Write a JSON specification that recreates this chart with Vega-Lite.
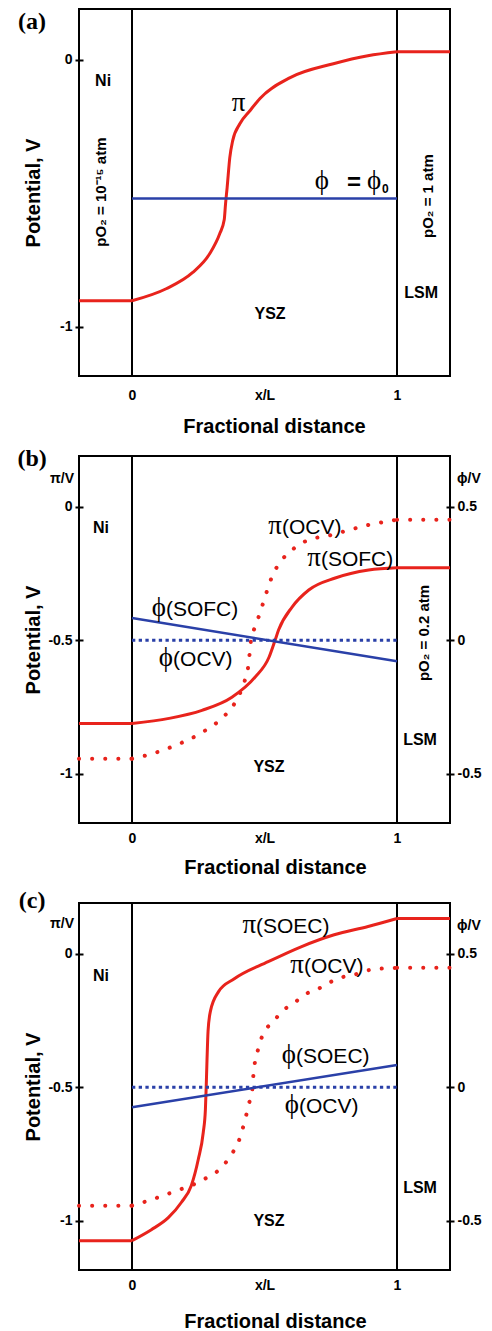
{
  "$schema": "https://vega.github.io/schema/vega-lite/v6.json",
  "padding": {"left": 16, "top": 7, "right": 0, "bottom": 0},
  "bounds": "flush",
  "spacing": 80,
  "config": {
    "view": {"stroke": "black", "strokeWidth": 2},
    "font": "Liberation Sans",
    "axis": {
      "grid": false, "domain": false,
      "labelFont": "Liberation Sans", "labelFontWeight": "bold", "labelFontSize": 14, "labelColor": "black",
      "titleFont": "Liberation Sans", "titleFontWeight": "bold", "titleFontSize": 20, "titleColor": "black",
      "tickColor": "black", "tickWidth": 2, "labelOverlap": false, "labelFlush": false
    }
  },
  "datasets": {
    "curves": [
      {"p":"a","s":"pi","g":"L","x":-0.2,"y":-0.903},{"p":"a","s":"pi","g":"L","x":0,"y":-0.903},
      {"p":"a","s":"pi","g":"M","x":0,"y":-0.903},{"p":"a","s":"pi","g":"M","x":0.129,"y":-0.858},{"p":"a","s":"pi","g":"M","x":0.228,"y":-0.798},{"p":"a","s":"pi","g":"M","x":0.293,"y":-0.727},{"p":"a","s":"pi","g":"M","x":0.331,"y":-0.652},{"p":"a","s":"pi","g":"M","x":0.348,"y":-0.6},{"p":"a","s":"pi","g":"M","x":0.353,"y":-0.54},{"p":"a","s":"pi","g":"M","x":0.359,"y":-0.479},{"p":"a","s":"pi","g":"M","x":0.369,"y":-0.367},{"p":"a","s":"pi","g":"M","x":0.38,"y":-0.303},{"p":"a","s":"pi","g":"M","x":0.407,"y":-0.24},{"p":"a","s":"pi","g":"M","x":0.445,"y":-0.191},{"p":"a","s":"pi","g":"M","x":0.483,"y":-0.145},{"p":"a","s":"pi","g":"M","x":0.597,"y":-0.067},{"p":"a","s":"pi","g":"M","x":0.76,"y":-0.015},{"p":"a","s":"pi","g":"M","x":0.89,"y":0.015},{"p":"a","s":"pi","g":"M","x":1.0,"y":0.03},
      {"p":"a","s":"pi","g":"R","x":1.0,"y":0.03},{"p":"a","s":"pi","g":"R","x":1.2,"y":0.03},
      {"p":"a","s":"phi","g":"M","x":0,"y":-0.52},{"p":"a","s":"phi","g":"M","x":1,"y":-0.52},
      {"p":"b","s":"pi","g":"L","x":-0.2,"y":-0.812},{"p":"b","s":"pi","g":"L","x":0,"y":-0.812},
      {"p":"b","s":"pi","g":"M","x":0,"y":-0.812},{"p":"b","s":"pi","g":"M","x":0.14,"y":-0.793},{"p":"b","s":"pi","g":"M","x":0.264,"y":-0.763},{"p":"b","s":"pi","g":"M","x":0.377,"y":-0.714},{"p":"b","s":"pi","g":"M","x":0.464,"y":-0.639},{"p":"b","s":"pi","g":"M","x":0.517,"y":-0.564},{"p":"b","s":"pi","g":"M","x":0.54,"y":-0.5},{"p":"b","s":"pi","g":"M","x":0.553,"y":-0.462},{"p":"b","s":"pi","g":"M","x":0.604,"y":-0.376},{"p":"b","s":"pi","g":"M","x":0.667,"y":-0.312},{"p":"b","s":"pi","g":"M","x":0.767,"y":-0.267},{"p":"b","s":"pi","g":"M","x":0.893,"y":-0.237},{"p":"b","s":"pi","g":"M","x":1.0,"y":-0.229},
      {"p":"b","s":"pi","g":"R","x":1.0,"y":-0.229},{"p":"b","s":"pi","g":"R","x":1.2,"y":-0.229},
      {"p":"b","s":"pio","g":"L","x":-0.2,"y":-0.944},{"p":"b","s":"pio","g":"L","x":0,"y":-0.944},
      {"p":"b","s":"pio","g":"M","x":0,"y":-0.944},{"p":"b","s":"pio","g":"M","x":0.064,"y":-0.929},{"p":"b","s":"pio","g":"M","x":0.162,"y":-0.895},{"p":"b","s":"pio","g":"M","x":0.257,"y":-0.85},{"p":"b","s":"pio","g":"M","x":0.343,"y":-0.789},{"p":"b","s":"pio","g":"M","x":0.377,"y":-0.752},{"p":"b","s":"pio","g":"M","x":0.405,"y":-0.705},{"p":"b","s":"pio","g":"M","x":0.426,"y":-0.65},{"p":"b","s":"pio","g":"M","x":0.438,"y":-0.602},{"p":"b","s":"pio","g":"M","x":0.444,"y":-0.549},{"p":"b","s":"pio","g":"M","x":0.449,"y":-0.5},{"p":"b","s":"pio","g":"M","x":0.464,"y":-0.451},{"p":"b","s":"pio","g":"M","x":0.483,"y":-0.398},{"p":"b","s":"pio","g":"M","x":0.502,"y":-0.338},{"p":"b","s":"pio","g":"M","x":0.528,"y":-0.263},{"p":"b","s":"pio","g":"M","x":0.566,"y":-0.199},{"p":"b","s":"pio","g":"M","x":0.604,"y":-0.162},{"p":"b","s":"pio","g":"M","x":0.649,"y":-0.132},{"p":"b","s":"pio","g":"M","x":0.755,"y":-0.105},{"p":"b","s":"pio","g":"M","x":0.894,"y":-0.068},{"p":"b","s":"pio","g":"M","x":1.0,"y":-0.049},
      {"p":"b","s":"pio","g":"R","x":1.0,"y":-0.049},{"p":"b","s":"pio","g":"R","x":1.2,"y":-0.049},
      {"p":"b","s":"phi","g":"M","x":0,"y":-0.417},{"p":"b","s":"phi","g":"M","x":1,"y":-0.579},
      {"p":"b","s":"phio","g":"M","x":0,"y":-0.5},{"p":"b","s":"phio","g":"M","x":1,"y":-0.5},
      {"p":"c","s":"pi","g":"L","x":-0.2,"y":-1.075},{"p":"c","s":"pi","g":"L","x":0,"y":-1.075},
      {"p":"c","s":"pi","g":"M","x":0,"y":-1.075},{"p":"c","s":"pi","g":"M","x":0.073,"y":-1.034},{"p":"c","s":"pi","g":"M","x":0.137,"y":-0.989},{"p":"c","s":"pi","g":"M","x":0.186,"y":-0.932},{"p":"c","s":"pi","g":"M","x":0.224,"y":-0.868},{"p":"c","s":"pi","g":"M","x":0.25,"y":-0.771},{"p":"c","s":"pi","g":"M","x":0.269,"y":-0.669},{"p":"c","s":"pi","g":"M","x":0.277,"y":-0.583},{"p":"c","s":"pi","g":"M","x":0.28,"y":-0.5},{"p":"c","s":"pi","g":"M","x":0.283,"y":-0.4},{"p":"c","s":"pi","g":"M","x":0.287,"y":-0.29},{"p":"c","s":"pi","g":"M","x":0.296,"y":-0.215},{"p":"c","s":"pi","g":"M","x":0.326,"y":-0.143},{"p":"c","s":"pi","g":"M","x":0.386,"y":-0.094},{"p":"c","s":"pi","g":"M","x":0.514,"y":-0.03},{"p":"c","s":"pi","g":"M","x":0.638,"y":0.026},{"p":"c","s":"pi","g":"M","x":0.763,"y":0.071},{"p":"c","s":"pi","g":"M","x":0.891,"y":0.102},{"p":"c","s":"pi","g":"M","x":1.0,"y":0.132},
      {"p":"c","s":"pi","g":"R","x":1.0,"y":0.132},{"p":"c","s":"pi","g":"R","x":1.2,"y":0.132},
      {"p":"c","s":"pio","g":"L","x":-0.2,"y":-0.944},{"p":"c","s":"pio","g":"L","x":0,"y":-0.944},
      {"p":"c","s":"pio","g":"M","x":0,"y":-0.944},{"p":"c","s":"pio","g":"M","x":0.062,"y":-0.925},{"p":"c","s":"pio","g":"M","x":0.16,"y":-0.891},{"p":"c","s":"pio","g":"M","x":0.262,"y":-0.85},{"p":"c","s":"pio","g":"M","x":0.345,"y":-0.793},{"p":"c","s":"pio","g":"M","x":0.375,"y":-0.752},{"p":"c","s":"pio","g":"M","x":0.401,"y":-0.707},{"p":"c","s":"pio","g":"M","x":0.431,"y":-0.605},{"p":"c","s":"pio","g":"M","x":0.443,"y":-0.556},{"p":"c","s":"pio","g":"M","x":0.453,"y":-0.519},{"p":"c","s":"pio","g":"M","x":0.458,"y":-0.455},{"p":"c","s":"pio","g":"M","x":0.476,"y":-0.357},{"p":"c","s":"pio","g":"M","x":0.499,"y":-0.293},{"p":"c","s":"pio","g":"M","x":0.533,"y":-0.256},{"p":"c","s":"pio","g":"M","x":0.563,"y":-0.218},{"p":"c","s":"pio","g":"M","x":0.608,"y":-0.188},{"p":"c","s":"pio","g":"M","x":0.65,"y":-0.154},{"p":"c","s":"pio","g":"M","x":0.702,"y":-0.132},{"p":"c","s":"pio","g":"M","x":0.751,"y":-0.105},{"p":"c","s":"pio","g":"M","x":0.8,"y":-0.086},{"p":"c","s":"pio","g":"M","x":0.853,"y":-0.075},{"p":"c","s":"pio","g":"M","x":0.901,"y":-0.06},{"p":"c","s":"pio","g":"M","x":1.0,"y":-0.053},
      {"p":"c","s":"pio","g":"R","x":1.0,"y":-0.053},{"p":"c","s":"pio","g":"R","x":1.2,"y":-0.053},
      {"p":"c","s":"phi","g":"M","x":0,"y":-0.575},{"p":"c","s":"phi","g":"M","x":1,"y":-0.417},
      {"p":"c","s":"phio","g":"M","x":0,"y":-0.5},{"p":"c","s":"phio","g":"M","x":1,"y":-0.5}
    ],
    "texts": [
      {"p":"a","k":"tag","x":-0.377,"y":0.141,"t":"(a)"},
      {"p":"a","k":"region","x":-0.109,"y":-0.08,"t":"Ni"},
      {"p":"a","k":"region","x":0.521,"y":-0.953,"t":"YSZ"},
      {"p":"a","k":"region","x":1.091,"y":-0.874,"t":"LSM"},
      {"p":"a","k":"rot","x":-0.117,"y":-0.496,"t":"pO₂ = 10⁻¹⁵ atm"},
      {"p":"a","k":"rot","x":1.117,"y":-0.511,"t":"pO₂ = 1 atm"},
      {"p":"a","k":"g","x":0.428,"y":-0.192,"t":"π"},
      {"p":"a","k":"g","x":0.743,"y":-0.484,"t":"ϕ"},
      {"p":"a","k":"eq","x":0.838,"y":-0.462,"t":"="},
      {"p":"a","k":"g","x":0.94,"y":-0.484,"t":"ϕ"},
      {"p":"a","k":"sub","x":0.943,"y":-0.484,"t":"0"},
      {"p":"b","k":"tag","x":-0.377,"y":0.179,"t":"(b)"},
      {"p":"b","k":"unitL","x":-0.2,"y":0.104,"t":"π/V"},
      {"p":"b","k":"unitR","x":1.2,"y":0.104,"t":"ϕ/V"},
      {"p":"b","k":"region","x":-0.117,"y":-0.08,"t":"Ni"},
      {"p":"b","k":"region","x":0.517,"y":-0.975,"t":"YSZ"},
      {"p":"b","k":"region","x":1.087,"y":-0.874,"t":"LSM"},
      {"p":"b","k":"rot","x":1.102,"y":-0.473,"t":"pO₂ = 0.2 atm"},
      {"p":"b","k":"g","x":0.566,"y":-0.102,"t":"π"},{"p":"b","k":"r","x":0.566,"y":-0.102,"t":"(OCV)"},
      {"p":"b","k":"g","x":0.713,"y":-0.222,"t":"π"},{"p":"b","k":"r","x":0.713,"y":-0.222,"t":"(SOFC)"},
      {"p":"b","k":"g","x":0.128,"y":-0.41,"t":"ϕ"},{"p":"b","k":"r","x":0.128,"y":-0.41,"t":"(SOFC)"},
      {"p":"b","k":"g","x":0.155,"y":-0.597,"t":"ϕ"},{"p":"b","k":"r","x":0.155,"y":-0.597,"t":"(OCV)"},
      {"p":"c","k":"tag","x":-0.377,"y":0.197,"t":"(c)"},
      {"p":"c","k":"unitL","x":-0.2,"y":0.111,"t":"π/V"},
      {"p":"c","k":"unitR","x":1.2,"y":0.104,"t":"ϕ/V"},
      {"p":"c","k":"region","x":-0.117,"y":-0.083,"t":"Ni"},
      {"p":"c","k":"region","x":0.517,"y":-1.001,"t":"YSZ"},
      {"p":"c","k":"region","x":1.087,"y":-0.878,"t":"LSM"},
      {"p":"c","k":"g","x":0.468,"y":0.078,"t":"π"},{"p":"c","k":"r","x":0.468,"y":0.078,"t":"(SOEC)"},
      {"p":"c","k":"g","x":0.649,"y":-0.072,"t":"π"},{"p":"c","k":"r","x":0.649,"y":-0.072,"t":"(OCV)"},
      {"p":"c","k":"g","x":0.619,"y":-0.409,"t":"ϕ"},{"p":"c","k":"r","x":0.619,"y":-0.409,"t":"(SOEC)"},
      {"p":"c","k":"g","x":0.63,"y":-0.597,"t":"ϕ"},{"p":"c","k":"r","x":0.63,"y":-0.597,"t":"(OCV)"}
    ]
  },
  "vconcat": [
    {
      "width": 371, "height": 367,
      "resolve": {"axis": {"x": "independent", "y": "independent"}},
      "layer": [
        {"data": {"values": [{"x": 0}, {"x": 1}]}, "mark": {"type": "rule", "color": "black", "strokeWidth": 2},
         "encoding": {"x": {"field": "x", "type": "quantitative", "scale": {"domain": [-0.2, 1.2], "nice": false, "zero": false},
           "axis": {"values": [0, 0.5, 1], "labelExpr": "datum.value == 0.5 ? 'x/L' : toString(datum.value)", "ticks": false, "tickSize": 0, "labelPadding": 23, "labelBaseline": "alphabetic", "title": "Fractional distance", "titleX": 195, "titleY": 56, "titleBaseline": "alphabetic", "titleAlign": "center"}}}},
        {"data": {"name": "curves"}, "transform": [{"filter": "datum.p == 'a' && datum.s == 'pi'"}],
         "mark": {"type": "line", "color": "#e8231c", "strokeWidth": 3, "interpolate": "monotone"},
         "encoding": {"x": {"field": "x", "type": "quantitative", "scale": {"domain": [-0.2, 1.2], "nice": false, "zero": false}, "axis": null},
           "y": {"field": "y", "type": "quantitative", "scale": {"domain": [-1.185, 0.19], "nice": false, "zero": false},
             "axis": {"orient": "left", "values": [0, -1], "labelExpr": "toString(datum.value)", "offset": -4, "tickSize": 8, "labelPadding": 3, "title": "Potential, V", "titleX": -50, "titleAngle": 270, "titleBaseline": "middle", "titleAlign": "center"}},
           "detail": {"field": "g"}}},
        {"data": {"name": "curves"}, "transform": [{"filter": "datum.p == 'a' && datum.s == 'phi'"}],
         "mark": {"type": "line", "color": "#2a40a8", "strokeWidth": 2.5},
         "encoding": {"x": {"field": "x", "type": "quantitative", "scale": {"domain": [-0.2, 1.2], "nice": false, "zero": false}, "axis": null},
           "y": {"field": "y", "type": "quantitative", "scale": {"domain": [-1.185, 0.19], "nice": false, "zero": false}, "axis": null}}},
        {"data": {"name": "texts"}, "transform": [{"filter": "datum.p == 'a' && datum.k == 'tag'"}],
         "mark": {"type": "text", "font": "Liberation Serif", "fontWeight": "bold", "fontSize": 24, "align": "center", "baseline": "middle", "color": "black"},
         "encoding": {"x": {"field": "x", "type": "quantitative", "scale": {"domain": [-0.2, 1.2], "nice": false, "zero": false}, "axis": null},
           "y": {"field": "y", "type": "quantitative", "scale": {"domain": [-1.185, 0.19], "nice": false, "zero": false}, "axis": null}, "text": {"field": "t"}}},
        {"data": {"name": "texts"}, "transform": [{"filter": "datum.p == 'a' && datum.k == 'region'"}],
         "mark": {"type": "text", "font": "Liberation Sans", "fontWeight": "bold", "fontSize": 16, "align": "center", "baseline": "middle", "color": "black"},
         "encoding": {"x": {"field": "x", "type": "quantitative", "scale": {"domain": [-0.2, 1.2], "nice": false, "zero": false}, "axis": null},
           "y": {"field": "y", "type": "quantitative", "scale": {"domain": [-1.185, 0.19], "nice": false, "zero": false}, "axis": null}, "text": {"field": "t"}}},
        {"data": {"name": "texts"}, "transform": [{"filter": "datum.p == 'a' && datum.k == 'rot'"}],
         "mark": {"type": "text", "font": "Liberation Sans", "fontWeight": "bold", "fontSize": 15, "align": "center", "baseline": "middle", "angle": 270, "color": "black"},
         "encoding": {"x": {"field": "x", "type": "quantitative", "scale": {"domain": [-0.2, 1.2], "nice": false, "zero": false}, "axis": null},
           "y": {"field": "y", "type": "quantitative", "scale": {"domain": [-1.185, 0.19], "nice": false, "zero": false}, "axis": null}, "text": {"field": "t"}}},
        {"data": {"name": "texts"}, "transform": [{"filter": "datum.p == 'a' && datum.k == 'g'"}],
         "mark": {"type": "text", "font": "Liberation Serif", "fontSize": 27, "align": "right", "baseline": "alphabetic", "color": "black"},
         "encoding": {"x": {"field": "x", "type": "quantitative", "scale": {"domain": [-0.2, 1.2], "nice": false, "zero": false}, "axis": null},
           "y": {"field": "y", "type": "quantitative", "scale": {"domain": [-1.185, 0.19], "nice": false, "zero": false}, "axis": null}, "text": {"field": "t"}}},
        {"data": {"name": "texts"}, "transform": [{"filter": "datum.p == 'a' && datum.k == 'eq'"}],
         "mark": {"type": "text", "font": "Liberation Sans", "fontWeight": "bold", "fontSize": 24, "align": "center", "baseline": "middle", "color": "black"},
         "encoding": {"x": {"field": "x", "type": "quantitative", "scale": {"domain": [-0.2, 1.2], "nice": false, "zero": false}, "axis": null},
           "y": {"field": "y", "type": "quantitative", "scale": {"domain": [-1.185, 0.19], "nice": false, "zero": false}, "axis": null}, "text": {"field": "t"}}},
        {"data": {"name": "texts"}, "transform": [{"filter": "datum.p == 'a' && datum.k == 'sub'"}],
         "mark": {"type": "text", "font": "Liberation Sans", "fontWeight": "bold", "fontSize": 12, "align": "left", "baseline": "middle", "color": "black"},
         "encoding": {"x": {"field": "x", "type": "quantitative", "scale": {"domain": [-0.2, 1.2], "nice": false, "zero": false}, "axis": null},
           "y": {"field": "y", "type": "quantitative", "scale": {"domain": [-1.185, 0.19], "nice": false, "zero": false}, "axis": null}, "text": {"field": "t"}}}
      ]
    },
    {
      "width": 371, "height": 367,
      "resolve": {"axis": {"x": "independent", "y": "independent"}},
      "layer": [
        {"data": {"values": [{"x": 0}, {"x": 1}]}, "mark": {"type": "rule", "color": "black", "strokeWidth": 2},
         "encoding": {"x": {"field": "x", "type": "quantitative", "scale": {"domain": [-0.2, 1.2], "nice": false, "zero": false},
           "axis": {"values": [0, 0.5, 1], "labelExpr": "datum.value == 0.5 ? 'x/L' : toString(datum.value)", "ticks": false, "tickSize": 0, "labelPadding": 19, "labelBaseline": "alphabetic", "title": "Fractional distance", "titleX": 196, "titleY": 50, "titleBaseline": "alphabetic", "titleAlign": "center"}}}},
        {"data": {"name": "curves"}, "transform": [{"filter": "datum.p == 'b' && datum.s == 'pi'"}],
         "mark": {"type": "line", "color": "#e8231c", "strokeWidth": 3, "interpolate": "monotone"},
         "encoding": {"x": {"field": "x", "type": "quantitative", "scale": {"domain": [-0.2, 1.2], "nice": false, "zero": false}, "axis": null},
           "y": {"field": "y", "type": "quantitative", "scale": {"domain": [-1.185, 0.19], "nice": false, "zero": false},
             "axis": {"orient": "left", "values": [0, -0.5, -1], "labelExpr": "toString(datum.value)", "offset": -4, "tickSize": 8, "labelPadding": 3, "title": "Potential, V", "titleX": -50, "titleAngle": 270, "titleBaseline": "middle", "titleAlign": "center"}},
           "detail": {"field": "g"}}},
        {"data": {"name": "curves"}, "transform": [{"filter": "datum.p == 'b' && datum.s == 'pio'"}],
         "mark": {"type": "line", "color": "#e8231c", "strokeWidth": 4, "strokeCap": "round", "strokeDash": [0.1, 13], "interpolate": "monotone"},
         "encoding": {"x": {"field": "x", "type": "quantitative", "scale": {"domain": [-0.2, 1.2], "nice": false, "zero": false}, "axis": null},
           "y": {"field": "y", "type": "quantitative", "scale": {"domain": [-1.185, 0.19], "nice": false, "zero": false}, "axis": null},
           "detail": {"field": "g"}}},
        {"data": {"name": "curves"}, "transform": [{"filter": "datum.p == 'b' && datum.s == 'phio'"}],
         "mark": {"type": "line", "color": "#2a40a8", "strokeWidth": 3, "strokeDash": [3.3, 3.4]},
         "encoding": {"x": {"field": "x", "type": "quantitative", "scale": {"domain": [-0.2, 1.2], "nice": false, "zero": false}, "axis": null},
           "y": {"field": "y", "type": "quantitative", "scale": {"domain": [-1.185, 0.19], "nice": false, "zero": false}, "axis": null}}},
        {"data": {"name": "curves"}, "transform": [{"filter": "datum.p == 'b' && datum.s == 'phi'"}],
         "mark": {"type": "line", "color": "#2a40a8", "strokeWidth": 2.5},
         "encoding": {"x": {"field": "x", "type": "quantitative", "scale": {"domain": [-0.2, 1.2], "nice": false, "zero": false}, "axis": null},
           "y": {"field": "y", "type": "quantitative", "scale": {"domain": [-1.185, 0.19], "nice": false, "zero": false},
             "axis": {"orient": "right", "values": [0, -0.5, -1], "labelExpr": "toString(datum.value + 0.5)", "offset": -4, "tickSize": 8, "labelPadding": 3, "title": null}}}},
        {"data": {"name": "texts"}, "transform": [{"filter": "datum.p == 'b' && datum.k == 'tag'"}],
         "mark": {"type": "text", "font": "Liberation Serif", "fontWeight": "bold", "fontSize": 24, "align": "center", "baseline": "middle", "color": "black"},
         "encoding": {"x": {"field": "x", "type": "quantitative", "scale": {"domain": [-0.2, 1.2], "nice": false, "zero": false}, "axis": null},
           "y": {"field": "y", "type": "quantitative", "scale": {"domain": [-1.185, 0.19], "nice": false, "zero": false}, "axis": null}, "text": {"field": "t"}}},
        {"data": {"name": "texts"}, "transform": [{"filter": "datum.p == 'b' && datum.k == 'unitL'"}],
         "mark": {"type": "text", "font": "Liberation Sans", "fontWeight": "bold", "fontSize": 14, "align": "right", "baseline": "middle", "dx": -5, "color": "black"},
         "encoding": {"x": {"field": "x", "type": "quantitative", "scale": {"domain": [-0.2, 1.2], "nice": false, "zero": false}, "axis": null},
           "y": {"field": "y", "type": "quantitative", "scale": {"domain": [-1.185, 0.19], "nice": false, "zero": false}, "axis": null}, "text": {"field": "t"}}},
        {"data": {"name": "texts"}, "transform": [{"filter": "datum.p == 'b' && datum.k == 'unitR'"}],
         "mark": {"type": "text", "font": "Liberation Sans", "fontWeight": "bold", "fontSize": 14, "align": "left", "baseline": "middle", "dx": 7, "color": "black"},
         "encoding": {"x": {"field": "x", "type": "quantitative", "scale": {"domain": [-0.2, 1.2], "nice": false, "zero": false}, "axis": null},
           "y": {"field": "y", "type": "quantitative", "scale": {"domain": [-1.185, 0.19], "nice": false, "zero": false}, "axis": null}, "text": {"field": "t"}}},
        {"data": {"name": "texts"}, "transform": [{"filter": "datum.p == 'b' && datum.k == 'region'"}],
         "mark": {"type": "text", "font": "Liberation Sans", "fontWeight": "bold", "fontSize": 16, "align": "center", "baseline": "middle", "color": "black"},
         "encoding": {"x": {"field": "x", "type": "quantitative", "scale": {"domain": [-0.2, 1.2], "nice": false, "zero": false}, "axis": null},
           "y": {"field": "y", "type": "quantitative", "scale": {"domain": [-1.185, 0.19], "nice": false, "zero": false}, "axis": null}, "text": {"field": "t"}}},
        {"data": {"name": "texts"}, "transform": [{"filter": "datum.p == 'b' && datum.k == 'rot'"}],
         "mark": {"type": "text", "font": "Liberation Sans", "fontWeight": "bold", "fontSize": 15, "align": "center", "baseline": "middle", "angle": 270, "color": "black"},
         "encoding": {"x": {"field": "x", "type": "quantitative", "scale": {"domain": [-0.2, 1.2], "nice": false, "zero": false}, "axis": null},
           "y": {"field": "y", "type": "quantitative", "scale": {"domain": [-1.185, 0.19], "nice": false, "zero": false}, "axis": null}, "text": {"field": "t"}}},
        {"data": {"name": "texts"}, "transform": [{"filter": "datum.p == 'b' && datum.k == 'g'"}],
         "mark": {"type": "text", "font": "Liberation Serif", "fontSize": 27, "align": "right", "baseline": "alphabetic", "color": "black"},
         "encoding": {"x": {"field": "x", "type": "quantitative", "scale": {"domain": [-0.2, 1.2], "nice": false, "zero": false}, "axis": null},
           "y": {"field": "y", "type": "quantitative", "scale": {"domain": [-1.185, 0.19], "nice": false, "zero": false}, "axis": null}, "text": {"field": "t"}}},
        {"data": {"name": "texts"}, "transform": [{"filter": "datum.p == 'b' && datum.k == 'r'"}],
         "mark": {"type": "text", "font": "Liberation Sans", "fontSize": 21, "align": "left", "baseline": "alphabetic", "color": "black"},
         "encoding": {"x": {"field": "x", "type": "quantitative", "scale": {"domain": [-0.2, 1.2], "nice": false, "zero": false}, "axis": null},
           "y": {"field": "y", "type": "quantitative", "scale": {"domain": [-1.185, 0.19], "nice": false, "zero": false}, "axis": null}, "text": {"field": "t"}}}
      ]
    },
    {
      "width": 371, "height": 367,
      "resolve": {"axis": {"x": "independent", "y": "independent"}},
      "layer": [
        {"data": {"values": [{"x": 0}, {"x": 1}]}, "mark": {"type": "rule", "color": "black", "strokeWidth": 2},
         "encoding": {"x": {"field": "x", "type": "quantitative", "scale": {"domain": [-0.2, 1.2], "nice": false, "zero": false},
           "axis": {"values": [0, 0.5, 1], "labelExpr": "datum.value == 0.5 ? 'x/L' : toString(datum.value)", "ticks": false, "tickSize": 0, "labelPadding": 19, "labelBaseline": "alphabetic", "title": "Fractional distance", "titleX": 196, "titleY": 57, "titleBaseline": "alphabetic", "titleAlign": "center"}}}},
        {"data": {"name": "curves"}, "transform": [{"filter": "datum.p == 'c' && datum.s == 'pi'"}],
         "mark": {"type": "line", "color": "#e8231c", "strokeWidth": 3, "interpolate": "monotone"},
         "encoding": {"x": {"field": "x", "type": "quantitative", "scale": {"domain": [-0.2, 1.2], "nice": false, "zero": false}, "axis": null},
           "y": {"field": "y", "type": "quantitative", "scale": {"domain": [-1.185, 0.19], "nice": false, "zero": false},
             "axis": {"orient": "left", "values": [0, -0.5, -1], "labelExpr": "toString(datum.value)", "offset": -4, "tickSize": 8, "labelPadding": 3, "title": "Potential, V", "titleX": -50, "titleAngle": 270, "titleBaseline": "middle", "titleAlign": "center"}},
           "detail": {"field": "g"}}},
        {"data": {"name": "curves"}, "transform": [{"filter": "datum.p == 'c' && datum.s == 'pio'"}],
         "mark": {"type": "line", "color": "#e8231c", "strokeWidth": 4, "strokeCap": "round", "strokeDash": [0.1, 13], "interpolate": "monotone"},
         "encoding": {"x": {"field": "x", "type": "quantitative", "scale": {"domain": [-0.2, 1.2], "nice": false, "zero": false}, "axis": null},
           "y": {"field": "y", "type": "quantitative", "scale": {"domain": [-1.185, 0.19], "nice": false, "zero": false}, "axis": null},
           "detail": {"field": "g"}}},
        {"data": {"name": "curves"}, "transform": [{"filter": "datum.p == 'c' && datum.s == 'phio'"}],
         "mark": {"type": "line", "color": "#2a40a8", "strokeWidth": 3, "strokeDash": [3.3, 3.4]},
         "encoding": {"x": {"field": "x", "type": "quantitative", "scale": {"domain": [-0.2, 1.2], "nice": false, "zero": false}, "axis": null},
           "y": {"field": "y", "type": "quantitative", "scale": {"domain": [-1.185, 0.19], "nice": false, "zero": false}, "axis": null}}},
        {"data": {"name": "curves"}, "transform": [{"filter": "datum.p == 'c' && datum.s == 'phi'"}],
         "mark": {"type": "line", "color": "#2a40a8", "strokeWidth": 2.5},
         "encoding": {"x": {"field": "x", "type": "quantitative", "scale": {"domain": [-0.2, 1.2], "nice": false, "zero": false}, "axis": null},
           "y": {"field": "y", "type": "quantitative", "scale": {"domain": [-1.185, 0.19], "nice": false, "zero": false},
             "axis": {"orient": "right", "values": [0, -0.5, -1], "labelExpr": "toString(datum.value + 0.5)", "offset": -4, "tickSize": 8, "labelPadding": 3, "title": null}}}},
        {"data": {"name": "texts"}, "transform": [{"filter": "datum.p == 'c' && datum.k == 'tag'"}],
         "mark": {"type": "text", "font": "Liberation Serif", "fontWeight": "bold", "fontSize": 24, "align": "center", "baseline": "middle", "color": "black"},
         "encoding": {"x": {"field": "x", "type": "quantitative", "scale": {"domain": [-0.2, 1.2], "nice": false, "zero": false}, "axis": null},
           "y": {"field": "y", "type": "quantitative", "scale": {"domain": [-1.185, 0.19], "nice": false, "zero": false}, "axis": null}, "text": {"field": "t"}}},
        {"data": {"name": "texts"}, "transform": [{"filter": "datum.p == 'c' && datum.k == 'unitL'"}],
         "mark": {"type": "text", "font": "Liberation Sans", "fontWeight": "bold", "fontSize": 14, "align": "right", "baseline": "middle", "dx": -5, "color": "black"},
         "encoding": {"x": {"field": "x", "type": "quantitative", "scale": {"domain": [-0.2, 1.2], "nice": false, "zero": false}, "axis": null},
           "y": {"field": "y", "type": "quantitative", "scale": {"domain": [-1.185, 0.19], "nice": false, "zero": false}, "axis": null}, "text": {"field": "t"}}},
        {"data": {"name": "texts"}, "transform": [{"filter": "datum.p == 'c' && datum.k == 'unitR'"}],
         "mark": {"type": "text", "font": "Liberation Sans", "fontWeight": "bold", "fontSize": 14, "align": "left", "baseline": "middle", "dx": 7, "color": "black"},
         "encoding": {"x": {"field": "x", "type": "quantitative", "scale": {"domain": [-0.2, 1.2], "nice": false, "zero": false}, "axis": null},
           "y": {"field": "y", "type": "quantitative", "scale": {"domain": [-1.185, 0.19], "nice": false, "zero": false}, "axis": null}, "text": {"field": "t"}}},
        {"data": {"name": "texts"}, "transform": [{"filter": "datum.p == 'c' && datum.k == 'region'"}],
         "mark": {"type": "text", "font": "Liberation Sans", "fontWeight": "bold", "fontSize": 16, "align": "center", "baseline": "middle", "color": "black"},
         "encoding": {"x": {"field": "x", "type": "quantitative", "scale": {"domain": [-0.2, 1.2], "nice": false, "zero": false}, "axis": null},
           "y": {"field": "y", "type": "quantitative", "scale": {"domain": [-1.185, 0.19], "nice": false, "zero": false}, "axis": null}, "text": {"field": "t"}}},
        {"data": {"name": "texts"}, "transform": [{"filter": "datum.p == 'c' && datum.k == 'g'"}],
         "mark": {"type": "text", "font": "Liberation Serif", "fontSize": 27, "align": "right", "baseline": "alphabetic", "color": "black"},
         "encoding": {"x": {"field": "x", "type": "quantitative", "scale": {"domain": [-0.2, 1.2], "nice": false, "zero": false}, "axis": null},
           "y": {"field": "y", "type": "quantitative", "scale": {"domain": [-1.185, 0.19], "nice": false, "zero": false}, "axis": null}, "text": {"field": "t"}}},
        {"data": {"name": "texts"}, "transform": [{"filter": "datum.p == 'c' && datum.k == 'r'"}],
         "mark": {"type": "text", "font": "Liberation Sans", "fontSize": 21, "align": "left", "baseline": "alphabetic", "color": "black"},
         "encoding": {"x": {"field": "x", "type": "quantitative", "scale": {"domain": [-0.2, 1.2], "nice": false, "zero": false}, "axis": null},
           "y": {"field": "y", "type": "quantitative", "scale": {"domain": [-1.185, 0.19], "nice": false, "zero": false}, "axis": null}, "text": {"field": "t"}}}
      ]
    }
  ]
}
